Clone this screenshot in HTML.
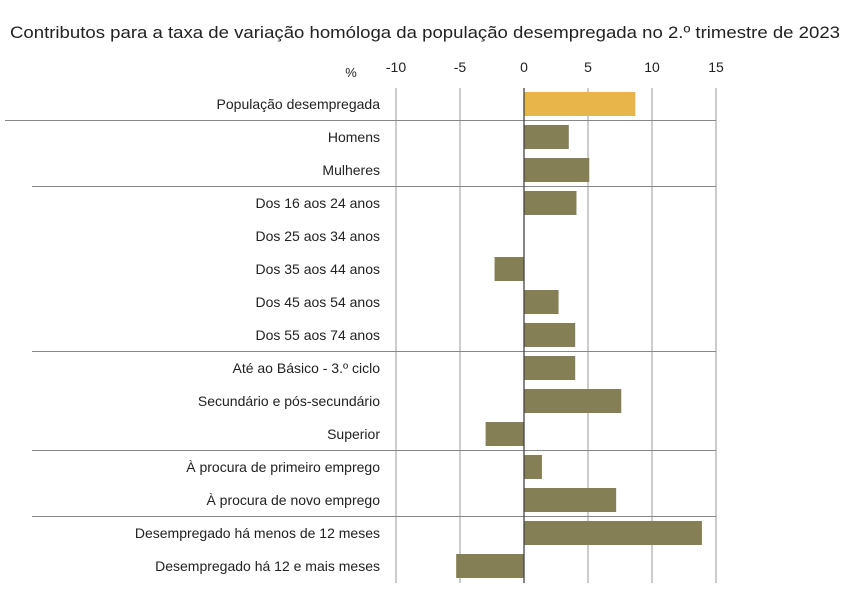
<!DOCTYPE html>
<html><head><meta charset="utf-8"><style>
body{margin:0;background:#fff;width:850px;height:591px;overflow:hidden}
svg text{font-family:"Liberation Sans",sans-serif;fill:#222}
</style></head><body>
<svg width="850" height="591">
<text x="425" y="38" text-anchor="middle" font-size="16.5" textLength="830" lengthAdjust="spacingAndGlyphs">Contributos para a taxa de variação homóloga da população desempregada no 2.º trimestre de 2023</text>
<text x="351" y="77" text-anchor="middle" font-size="13">%</text>
<g id="g"></g>
</svg>
<script>
const categories=["População desempregada","Homens","Mulheres","Dos 16 aos 24 anos","Dos 25 aos 34 anos","Dos 35 aos 44 anos","Dos 45 aos 54 anos","Dos 55 aos 74 anos","Até ao Básico - 3.º ciclo","Secundário e pós-secundário","Superior","À procura de primeiro emprego","À procura de novo emprego","Desempregado há menos de 12 meses","Desempregado há 12 e mais meses"];
const values=[8.7,3.5,5.1,4.1,0.0,-2.3,2.7,4.0,4.0,7.6,-3.0,1.4,7.2,13.9,-5.3];
const ticks=[-10,-5,0,5,10,15];
const separatorsAfter=[0,2,7,10,12];
const NS="http://www.w3.org/2000/svg",g=document.getElementById('g');
const x=v=>524+v*12.8, yc=i=>104+i*33;
function el(t,a){const e=document.createElementNS(NS,t);for(const k in a)e.setAttribute(k,a[k]);g.appendChild(e);return e;}
ticks.forEach(t=>{
 const l=el('line',{x1:x(t),x2:x(t),y1:88,y2:583,stroke:'#999','stroke-width':1});
 
 
 const tx=el('text',{x:x(t),y:72,'text-anchor':'middle','font-size':14});
 tx.textContent=t;
 
 
});
separatorsAfter.forEach((s,j)=>{
 const yy=yc(s)+16.5;
 const l=el('line',{x1:j==0?5:32,x2:716,y1:yy,y2:yy,stroke:'#888','stroke-width':1});
 
 
});
categories.forEach((c,i)=>{
 const v=values[i];
 const r=el('rect',{x:Math.min(x(0),x(v)),y:yc(i)-12,width:Math.abs(x(v)-x(0)),height:24,fill:i==0?'#E8B54B':'#857F55'});
 
 
 const t=el('text',{x:380,y:yc(i)+5,'text-anchor':'end','font-size':14});
 t.textContent=c;
 
 
});
const a=el('line',{x1:x(0),x2:x(0),y1:88,y2:583,stroke:'#444','stroke-width':1.3});


</script>
</body></html>
